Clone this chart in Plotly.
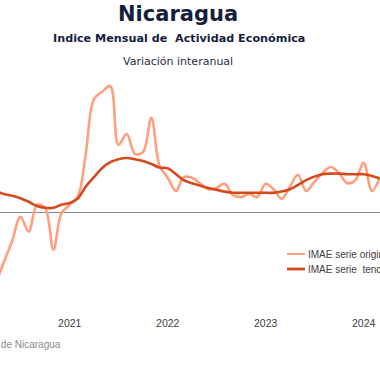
import pandas as pd
import plotly.graph_objects as go

# Monthly dates (Apr 2020 - Mar 2024)
months = pd.date_range("2020-04-01", periods=48, freq="MS")

# IMAE serie original, variacion interanual (%)
imae_original = [
    -11.8, -8.3, -4.7, -0.8, -3.3, 1.2, 0.7, -6.3, -0.2,
    1.2, 2.7, 9.5, 18.8, 20.0, 21.0, 11.2, 13.0, 9.7, 10.0, 15.7, 7.8,
    5.7, 3.5, 5.8, 5.7, 4.8, 3.8, 4.0, 4.7, 2.8, 2.5, 3.0, 2.5,
    4.7, 3.7, 2.2, 4.2, 6.2, 3.5, 5.0, 6.5, 7.5, 6.5, 4.8, 5.3,
    8.2, 3.5, 5.7,
]

# IMAE serie tendencia-ciclo, variacion interanual (%)
imae_tendencia = [
    3.5, 3.0, 2.7, 2.3, 1.7, 1.0, 0.7, 0.7, 1.2,
    1.5, 2.3, 4.2, 5.8, 7.3, 8.3, 8.8, 9.0, 8.8, 8.5, 8.0, 7.4,
    7.3, 6.3, 5.3, 4.8, 4.4, 4.0, 3.7, 3.4, 3.2, 3.2, 3.2, 3.2,
    3.2, 3.2, 3.4, 3.8, 4.5, 5.3, 5.9, 6.3, 6.4, 6.4, 6.3, 6.3,
    6.3, 6.0, 5.6,
]

year_ticks = ["2021-01-01", "2022-01-01", "2023-01-01", "2024-01-01"]
year_labels = ["2021", "2022", "2023", "2024"]

series_names = ["IMAE serie original", "IMAE serie  tendencia-ciclo"]
c_orig = "#FF9F7B"
c_trend = "#D44A1F"

fig = go.Figure()
fig.add_trace(go.Scatter(
    x=months, y=imae_original, mode="lines", name=series_names[0],
    line=dict(color=c_orig, width=2.6, shape="spline", smoothing=1),
    showlegend=False, hoverinfo="skip",
))
fig.add_trace(go.Scatter(
    x=months, y=imae_tendencia, mode="lines", name=series_names[1],
    line=dict(color=c_trend, width=2.6, shape="spline", smoothing=1),
    showlegend=False, hoverinfo="skip",
))

W, H = 380, 380
top, bottom = 75, 315


def py(p):
    return (bottom - p) / (bottom - top)


annotations = [
    dict(text="<b>Nicaragua</b>", x=178 / W, y=py(14), font=dict(family="DejaVu Sans", size=21, color="#14213D")),
    dict(text="<b>Indice Mensual de  Actividad Económica</b>", x=178.5 / W, y=py(38),
         font=dict(family="DejaVu Sans", size=11.2, color="#14213D")),
    dict(text="Variación interanual", x=178 / W, y=py(61),
         font=dict(family="DejaVu Sans", size=11, color="#1F2D3D")),
]
for a in annotations:
    a.update(xref="paper", yref="paper", xanchor="center", yanchor="middle", showarrow=False)

# legend (drawn manually to match tight row spacing)
leg_rows = [254, 269]
shapes = []
for name, col, wid, p in zip(series_names, [c_orig, c_trend], [2, 2.8], leg_rows):
    shapes.append(dict(type="line", xref="paper", yref="paper", x0=287 / W, x1=305 / W,
                       y0=py(p), y1=py(p), line=dict(color=col, width=wid)))
    annotations.append(dict(text=name, xref="paper", yref="paper", x=306 / W, y=py(p),
                            xanchor="left", yanchor="middle", showarrow=False,
                            font=dict(family="Liberation Sans", size=10, color="#404040")))

annotations.append(dict(text="Fuente: Banco Central de Nicaragua", xref="paper", yref="paper",
                        x=63 / W, y=py(344), xanchor="right", yanchor="middle", showarrow=False,
                        font=dict(family="Liberation Sans", size=10, color="#8C8C8C")))

fig.update_layout(
    width=W, height=H,
    margin=dict(l=0, r=0, t=top, b=H - bottom, pad=0),
    paper_bgcolor="white", plot_bgcolor="white",
    annotations=annotations, shapes=shapes,
    showlegend=False, hovermode=False,
    xaxis=dict(type="date", range=["2020-04-16", "2024-03-02"], tickvals=year_ticks,
               ticktext=year_labels, showgrid=False, zeroline=False, showline=False,
               ticks="", tickfont=dict(family="Liberation Sans", size=10.5, color="#404040")),
    yaxis=dict(range=[(212 - bottom) / 6, (212 - top) / 6], showgrid=False, showticklabels=False,
               zeroline=True, zerolinecolor="#8A8A8A", zerolinewidth=1.3, showline=False, ticks=""),
)

fig.write_html("out.html", config={"displayModeBar": False},
               post_script="document.body.style.margin='0';document.body.style.overflow='hidden';")
